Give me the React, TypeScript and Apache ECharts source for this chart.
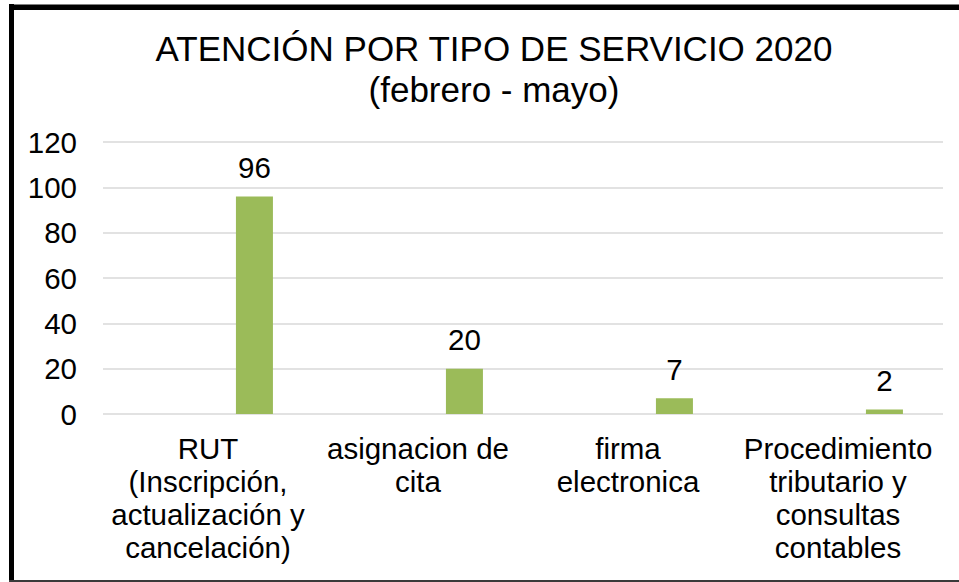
import React, { useEffect, useRef } from "react";
import * as echarts from "echarts";

const titleLines = ["ATENCIÓN POR TIPO DE SERVICIO 2020", "(febrero - mayo)"];
const categories = [
  "RUT\n(Inscripción,\nactualización y\ncancelación)",
  "asignacion de\ncita",
  "firma\nelectronica",
  "Procedimiento\ntributario y\nconsultas\ncontables",
];
const placeholderValues: number[] = [];
const serviceValues = [96, 20, 7, 2];
const yMin = 0;
const yMax = 120;
const yInterval = 20;

export default function App() {
  const ref = useRef<HTMLDivElement>(null);
  useEffect(() => {
    if (!ref.current) return;
    const chart = echarts.init(ref.current, null, { renderer: "svg" });
    const font = "'Liberation Sans', Arial, sans-serif";
    chart.setOption({
      animation: false,
      backgroundColor: "#ffffff",
      title: {
        text: titleLines.join("\n"),
        left: 489,
        top: 23,
        textAlign: "center",
        textStyle: {
          fontFamily: font,
          fontSize: 35,
          fontWeight: "normal",
          color: "#000000",
          lineHeight: 41,
        },
      },
      grid: { left: 103, right: 16, top: 142, bottom: 168, containLabel: false },
      xAxis: {
        type: "category",
        data: categories,
        axisLine: { show: false },
        axisTick: { show: false },
        axisLabel: {
          interval: 0,
          margin: 18,
          fontFamily: font,
          fontSize: 29.5,
          lineHeight: 33,
          color: "#000000",
          align: "center",
        },
      },
      yAxis: {
        type: "value",
        min: yMin,
        max: yMax,
        interval: yInterval,
        axisLine: { show: false },
        axisTick: { show: false },
        axisLabel: {
          margin: 26,
          fontFamily: font,
          fontSize: 29.5,
          color: "#000000",
        },
        splitLine: { lineStyle: { color: "#d9d9d9", width: 1.5 } },
      },
      series: [
        {
          type: "bar",
          name: "placeholder",
          data: placeholderValues,
          barWidth: 37,
          barGap: "151%",
          itemStyle: { color: "#4f81bd" },
        },
        {
          type: "bar",
          name: "Atención",
          data: serviceValues,
          barWidth: 37,
          barGap: "151%",
          itemStyle: { color: "#9bbb59" },
          label: {
            show: true,
            position: "top",
            distance: 14,
            fontFamily: font,
            fontSize: 29.5,
            color: "#000000",
          },
        },
      ],
      graphic: [
        { type: "rect", shape: { x: 9, y: 4, width: 5, height: 578 }, style: { fill: "#000000" } },
        { type: "rect", shape: { x: 9, y: 4.5, width: 950, height: 5.5 }, style: { fill: "#000000" } },
        { type: "rect", shape: { x: 9, y: 580, width: 950, height: 2 }, style: { fill: "#3a3a3a" } },
      ],
    });
    return () => chart.dispose();
  }, []);
  return (
    <div
      ref={ref}
      style={{ position: "fixed", left: 0, top: 0, width: 959, height: 582, background: "#fff" }}
    />
  );
}
